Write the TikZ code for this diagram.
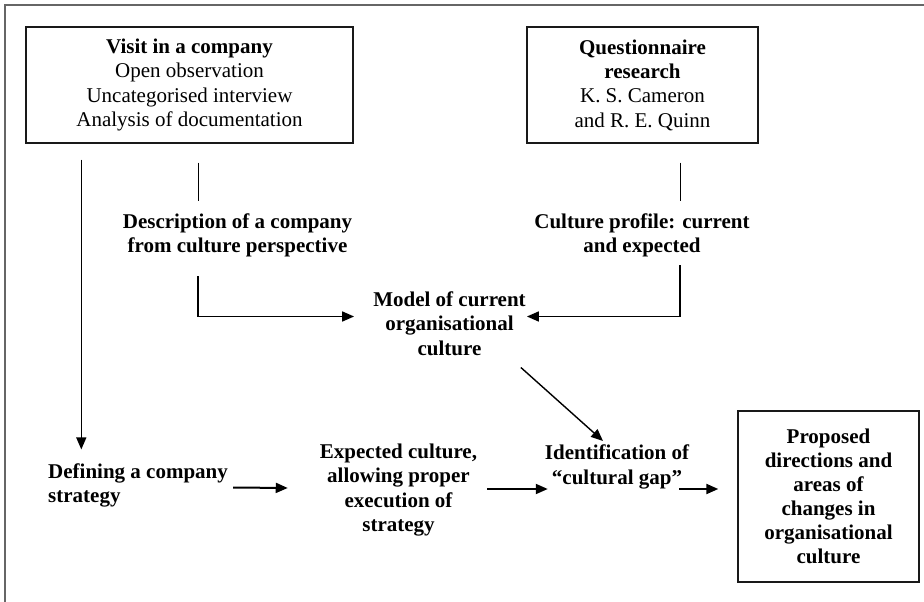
\documentclass[tikz,border=0pt]{standalone}
\usepackage{fontspec}
\setmainfont{Liberation Serif}
\usetikzlibrary{arrows.meta,calc}

\tikzset{
  txt/.style={font=\fontsize{21}{24.3}\selectfont, text=black, inner sep=0pt},
  lbl/.style={txt, align=center, font=\fontsize{21}{24.3}\selectfont\bfseries},
  box/.style={txt, draw=black!90, line width=1.4pt, align=center},
  link/.style={draw=black, line width=1.4pt},
  arr/.style={link, line width=1.7pt, -{Triangle[length=12pt,width=10pt]}},
  frame/.style={draw=black!60, line width=1.5pt}
}

\begin{document}
\begin{tikzpicture}[x=1pt,y=-1pt]
  \useasboundingbox (0,0) rectangle (924,602);

  % open frame: only its top and left sides are shown
  \draw[frame] (5,602) -- (5,5) -- (924,5);

  % source boxes
  \node[box, minimum width=327pt, minimum height=116pt] (visit) at (189.5,85)
    {\textbf{Visit in a company}\\Open observation\\Uncategorised interview\\Analysis of documentation};
  \node[box, minimum width=231pt, minimum height=116pt] (quest) at (642.5,85)
    {\textbf{Questionnaire}\\\textbf{research}\\K. S. Cameron\\and R. E. Quinn};

  % intermediate results
  \node[lbl] (desc) at (237.5,235.5) {Description of a company\\from culture perspective};
  \node[lbl] (profile) at (642,235.5) {Culture profile: current\\and expected};
  \node[lbl] (model) at (449.5,323.5) {Model of current\\organisational\\culture};

  % bottom row
  \node[lbl, align=left, anchor=west] (strategy) at (48,485.5) {Defining a company\\strategy};
  \node[lbl] (expected) at (398.5,490) {Expected culture,\\allowing proper\\execution of\\strategy};
  \node[lbl] (gap) at (617,467) {Identification of\\“cultural gap”};
  \node[box, font=\fontsize{21}{24.1}\selectfont\bfseries, minimum width=181pt, minimum height=171pt] (proposed) at (828.5,496.5)
    {Proposed\\directions and\\areas of\\changes in\\organisational\\culture};

  % connector end points
  \coordinate (visitL) at ($(visit.south west)+(56,16)$);
  \coordinate (visitR) at ($(visit.south west)+(173,19)$);
  \coordinate (questB) at ($(quest.south west)+(154,19)$);
  \coordinate (descB) at ($(desc.south west)+(-38.5,19)$);
  \coordinate (profB) at ($(profile.south west)+(148,8)$);
  \coordinate (modelB) at ($(model.south east)+(-5,12)$);

  % connectors
  \draw[arr, line width=1.4pt] (visitL) -- ($(visitL |- strategy.north)+(0,-14)$);
  \draw[link] (visitR) -- ($(visitR |- desc.north)+(0,-13)$);
  \draw[link] (questB) -- ($(questB |- profile.north)+(0,-13)$);
  \draw[arr] (visitR |- descB) |- ($(model.west)+(-19,-7)$);
  \draw[arr] (questB |- profB) |- ($(model.east)+(1,-7)$);
  \draw[arr, line width=1.4pt] (modelB) -- ($(gap.north)+(-14,-4)$);
  \draw[arr, line width=2pt] ($(strategy.east)+(5,2)$) -- ($(expected.west)+(-32,-2)$);
  \draw[arr, line width=2pt] ($(expected.east)+(10,-1)$) -- ($(gap.west)+(3,22)$);
  \draw[arr, line width=2pt] ($(gap.east)+(-10,22)$) -- ($(proposed.west)+(-19,-7.5)$);
\end{tikzpicture}
\end{document}
